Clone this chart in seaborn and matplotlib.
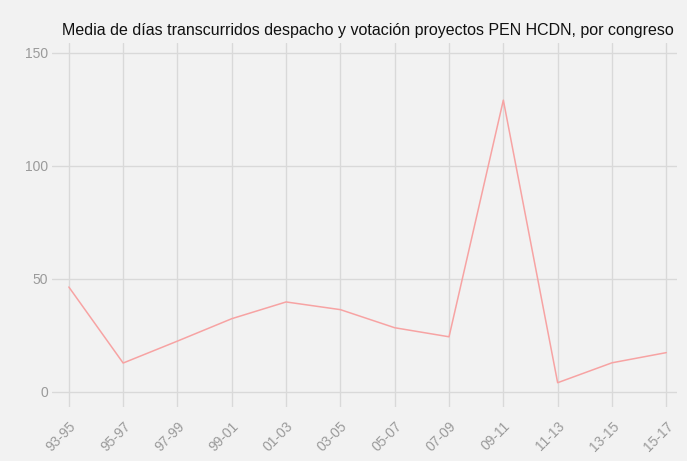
import numpy as np
import pandas as pd
import matplotlib.pyplot as plt
import seaborn as sns

# ── DATA ──────────────────────────────────────────────────────────────────────
congresos = ["93-95", "95-97", "97-99", "99-01", "01-03", "03-05",
             "05-07", "07-09", "09-11", "11-13", "13-15", "15-17"]
media_dias = [46.4, 12.8, 22.5, 32.4, 39.8, 36.4,
              28.4, 24.4, 129.0, 4.1, 12.9, 17.4]
y_ticks = [0, 50, 100, 150]

df = pd.DataFrame({"congreso": congresos, "dias": media_dias})
df["pos"] = np.arange(len(df))

# ── STYLE ─────────────────────────────────────────────────────────────────────
bg = "#F2F2F2"
grid = "#D9D9D9"
sns.set_theme(style="white")
plt.rcParams["font.family"] = ["Liberation Sans", "DejaVu Sans"]

fig = plt.figure(figsize=(6.87, 4.61), dpi=100, facecolor=bg)
ax = fig.add_axes([0.0757, 0.1178, 0.9854 - 0.0757, 0.9074 - 0.1178])
ax.set_facecolor(bg)

# gridlines drawn by hand so they run past each other like the original
ax.set_xlim(-0.31, len(congresos) - 1 + 0.197)
ax.set_ylim(-6.5, 154.4)
for x in df["pos"]:
    ax.axvline(x, color=grid, lw=1, zorder=0)
for y in y_ticks:
    ax.axhline(y, color=grid, lw=1, zorder=0)

sns.lineplot(data=df, x="pos", y="dias", ax=ax, color="#F7A3A3", lw=1.1)

ax.set_xticks(df["pos"])
ax.set_xticklabels(congresos, rotation=45, ha="right", rotation_mode="anchor")
ax.set_yticks(y_ticks)
ax.tick_params(axis="both", length=0, colors="#9A9A9A", labelsize=10)
ax.tick_params(axis="x", pad=9)
ax.tick_params(axis="y", pad=3)
ax.set_xlabel("")
ax.set_ylabel("")
for s in ax.spines.values():
    s.set_visible(False)

fig.text(368 / 687, 1 - 31 / 461,
         "Media de días transcurridos despacho y votación proyectos PEN HCDN, por congreso",
         ha="center", va="center", fontsize=11.5, color="#111111")

plt.savefig("out.png", dpi=100, facecolor=bg)
